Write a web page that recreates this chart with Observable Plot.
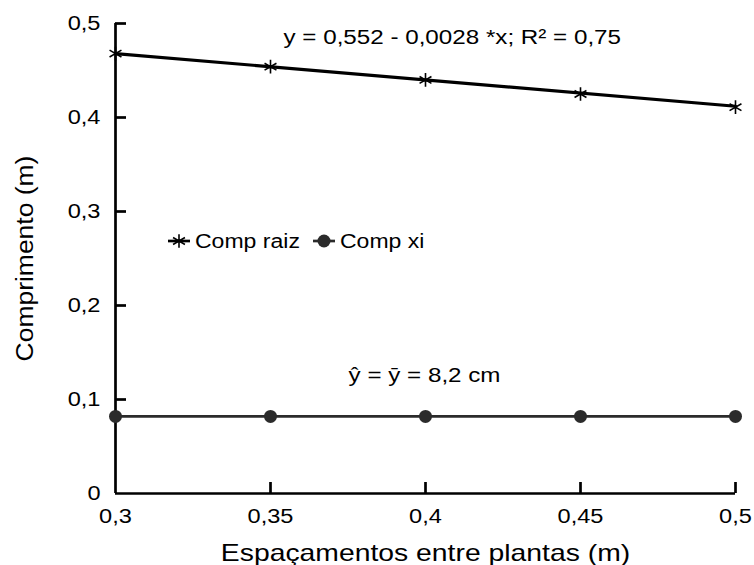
<!DOCTYPE html>
<html>
<head>
<meta charset="utf-8">
<script src="https://cdn.jsdelivr.net/npm/d3@7"></script>
<script src="https://cdn.jsdelivr.net/npm/@observablehq/plot@0.6"></script>
<style>
  html, body { margin: 0; padding: 0; background: #fff; }
  #chart { position: relative; width: 754px; height: 565px; font-family: "Liberation Sans", Arial, sans-serif; }
  #legend { position: absolute; left: 0; top: 0; pointer-events: none; }
</style>
</head>
<body>
<div id="chart"></div>
<script>
// ---- data ----
const spacing = [0.3, 0.35, 0.4, 0.45, 0.5];
const compRaiz = [0.468, 0.454, 0.440, 0.425, 0.411];
const compXi = [0.082, 0.082, 0.082, 0.082, 0.082];
const fitSpacing = [0.3, 0.5];
const fitRaiz = [0.468, 0.412];
const xTicks = [0.3, 0.35, 0.4, 0.45, 0.5];
const xTickLabels = ["0,3", "0,35", "0,4", "0,45", "0,5"];
const yTicks = [0, 0.1, 0.2, 0.3, 0.4, 0.5];
const yTickLabels = ["0", "0,1", "0,2", "0,3", "0,4", "0,5"];
const seriesNames = ["Comp raiz", "Comp xi"];
const eqRaiz = "y = 0,552 - 0,0028 *x; R² = 0,75";
const eqXi = "ŷ = y\u0304 = 8,2 cm";

const W = 754, H = 565, ML = 115, MR = 19, MT = 23, MB = 72, TICK = 11;
const xDomain = [0.3, 0.5], yDomain = [0, 0.5];
const frameW = W - ML - MR, frameH = H - MT - MB;
// tick length expressed in data units of each scale
const xPerPx = (xDomain[1] - xDomain[0]) / frameW;
const yPerPx = (yDomain[1] - yDomain[0]) / frameH;

const raizRows = spacing.map((x, i) => ({x, y: compRaiz[i]}));
const xiRows = spacing.map((x, i) => ({x, y: compXi[i]}));
const fitRows = fitSpacing.map((x, i) => ({x, y: fitRaiz[i]}));
const yTickRows = yTicks.slice(1).map(t => ({y: t, x1: xDomain[0], x2: xDomain[0] + TICK * xPerPx}));
const xTickRows = xTicks.slice(1).map(t => ({x: t, y1: yDomain[0], y2: yDomain[0] + TICK * yPerPx}));

const xFmt = d => xTickLabels[xTicks.findIndex(t => Math.abs(t - d) < 1e-9)];
const yFmt = d => yTickLabels[yTicks.findIndex(t => Math.abs(t - d) < 1e-9)];

const svg = Plot.plot({
  width: W,
  height: H,
  marginLeft: ML,
  marginRight: MR,
  marginTop: MT,
  marginBottom: MB,
  style: {fontFamily: "'Liberation Sans', Arial, sans-serif", background: "#fff", color: "#000"},
  x: {domain: xDomain},
  y: {domain: yDomain},
  marks: [
    // inward tick marks
    Plot.ruleY(yTickRows, {y: "y", x1: "x1", x2: "x2", stroke: "#000", strokeWidth: 2.7}),
    Plot.ruleX(xTickRows, {x: "x", y1: "y1", y2: "y2", stroke: "#000", strokeWidth: 2.7}),
    // tick labels
    Plot.axisY({ticks: yTicks, tickSize: 0, tickPadding: 15, tickFormat: yFmt, fontSize: 20, label: null, fill: "#000"}),
    Plot.axisX({ticks: xTicks, tickSize: 0, tickPadding: 15, tickFormat: xFmt, fontSize: 20, label: null, fill: "#000"}),
    // axis lines
    Plot.ruleX([0.3], {stroke: "#000", strokeWidth: 2.7}),
    Plot.ruleY([0], {stroke: "#000", strokeWidth: 2.7}),
    // axis titles
    Plot.text(["Espaçamentos entre plantas (m)"], {frameAnchor: "bottom", dy: 67, lineAnchor: "bottom", textAnchor: "middle", fontSize: 24, fill: "#000", className: "hstretch"}),
    Plot.text(["Comprimento (m)"], {frameAnchor: "left", dx: -90, rotate: -90, lineAnchor: "middle", textAnchor: "middle", fontSize: 23, fill: "#000", className: "vstretch"}),
    // Comp xi
    Plot.line(xiRows, {x: "x", y: "y", stroke: "#2b2b2b", strokeWidth: 2.7}),
    Plot.dot(xiRows, {x: "x", y: "y", r: 6.5, fill: "#2b2b2b", stroke: "none"}),
    // Comp raiz
    Plot.line(fitRows, {x: "x", y: "y", stroke: "#000", strokeWidth: 3.2}),
    Plot.dot(raizRows, {x: "x", y: "y", symbol: "asterisk", r: 6.5, stroke: "#000", strokeWidth: 1.6}),
    // equations
    Plot.text([eqRaiz], {x: 0.3542, y: 0.485, textAnchor: "start", lineAnchor: "middle", fontSize: 20.5, fill: "#000", className: "hstretch"}),
    Plot.text([eqXi], {x: 0.3752, y: 0.1255, textAnchor: "start", lineAnchor: "middle", fontSize: 20.5, fill: "#000", className: "hstretch"})
  ]
});

const chart = document.getElementById("chart");
chart.appendChild(svg);

// ---- legend overlay ----
const leg = d3.select(chart).append("svg")
  .attr("id", "legend").attr("width", W).attr("height", H)
  .style("font-family", "'Liberation Sans', Arial, sans-serif");
const legItems = [
  {name: seriesNames[0], x0: 168, tx: 195, sym: "asterisk"},
  {name: seriesNames[1], x0: 313, tx: 340, sym: "circle"}
];
const ly = 241;
legItems.forEach(it => {
  leg.append("line").attr("x1", it.x0).attr("x2", it.x0 + 22).attr("y1", ly).attr("y2", ly)
    .attr("stroke", it.sym === "circle" ? "#2b2b2b" : "#000").attr("stroke-width", 2.7);
  if (it.sym === "circle") {
    leg.append("circle").attr("cx", it.x0 + 11).attr("cy", ly).attr("r", 6.5).attr("fill", "#2b2b2b");
  } else {
    leg.append("path").attr("transform", `translate(${it.x0 + 11},${ly})`)
      .attr("d", d3.symbol(d3.symbolAsterisk, Math.PI * 6.5 * 6.5)())
      .attr("fill", "none").attr("stroke", "#000").attr("stroke-width", 1.6);
  }
  leg.append("text").attr("x", it.tx).attr("y", ly).attr("dy", "0.35em")
    .attr("font-size", 19.5).attr("fill", "#000").attr("class", "hstretch").text(it.name);
});

// ---- horizontal stretch of text (the reference is slightly widened) ----
const K = 1.18;
function stretch(el, k) {
  const L = el.getComputedTextLength();
  if (L > 0) {
    el.setAttribute("textLength", (L * k).toFixed(1));
    el.setAttribute("lengthAdjust", "spacingAndGlyphs");
  }
}
svg.querySelectorAll('g[aria-label="y-axis tick label"] text, g[aria-label="x-axis tick label"] text').forEach(t => stretch(t, K));
chart.querySelectorAll('.hstretch text, text.hstretch').forEach(t => stretch(t, K));
chart.querySelectorAll('.vstretch text').forEach(t => stretch(t, 1.15));
</script>
</body>
</html>
